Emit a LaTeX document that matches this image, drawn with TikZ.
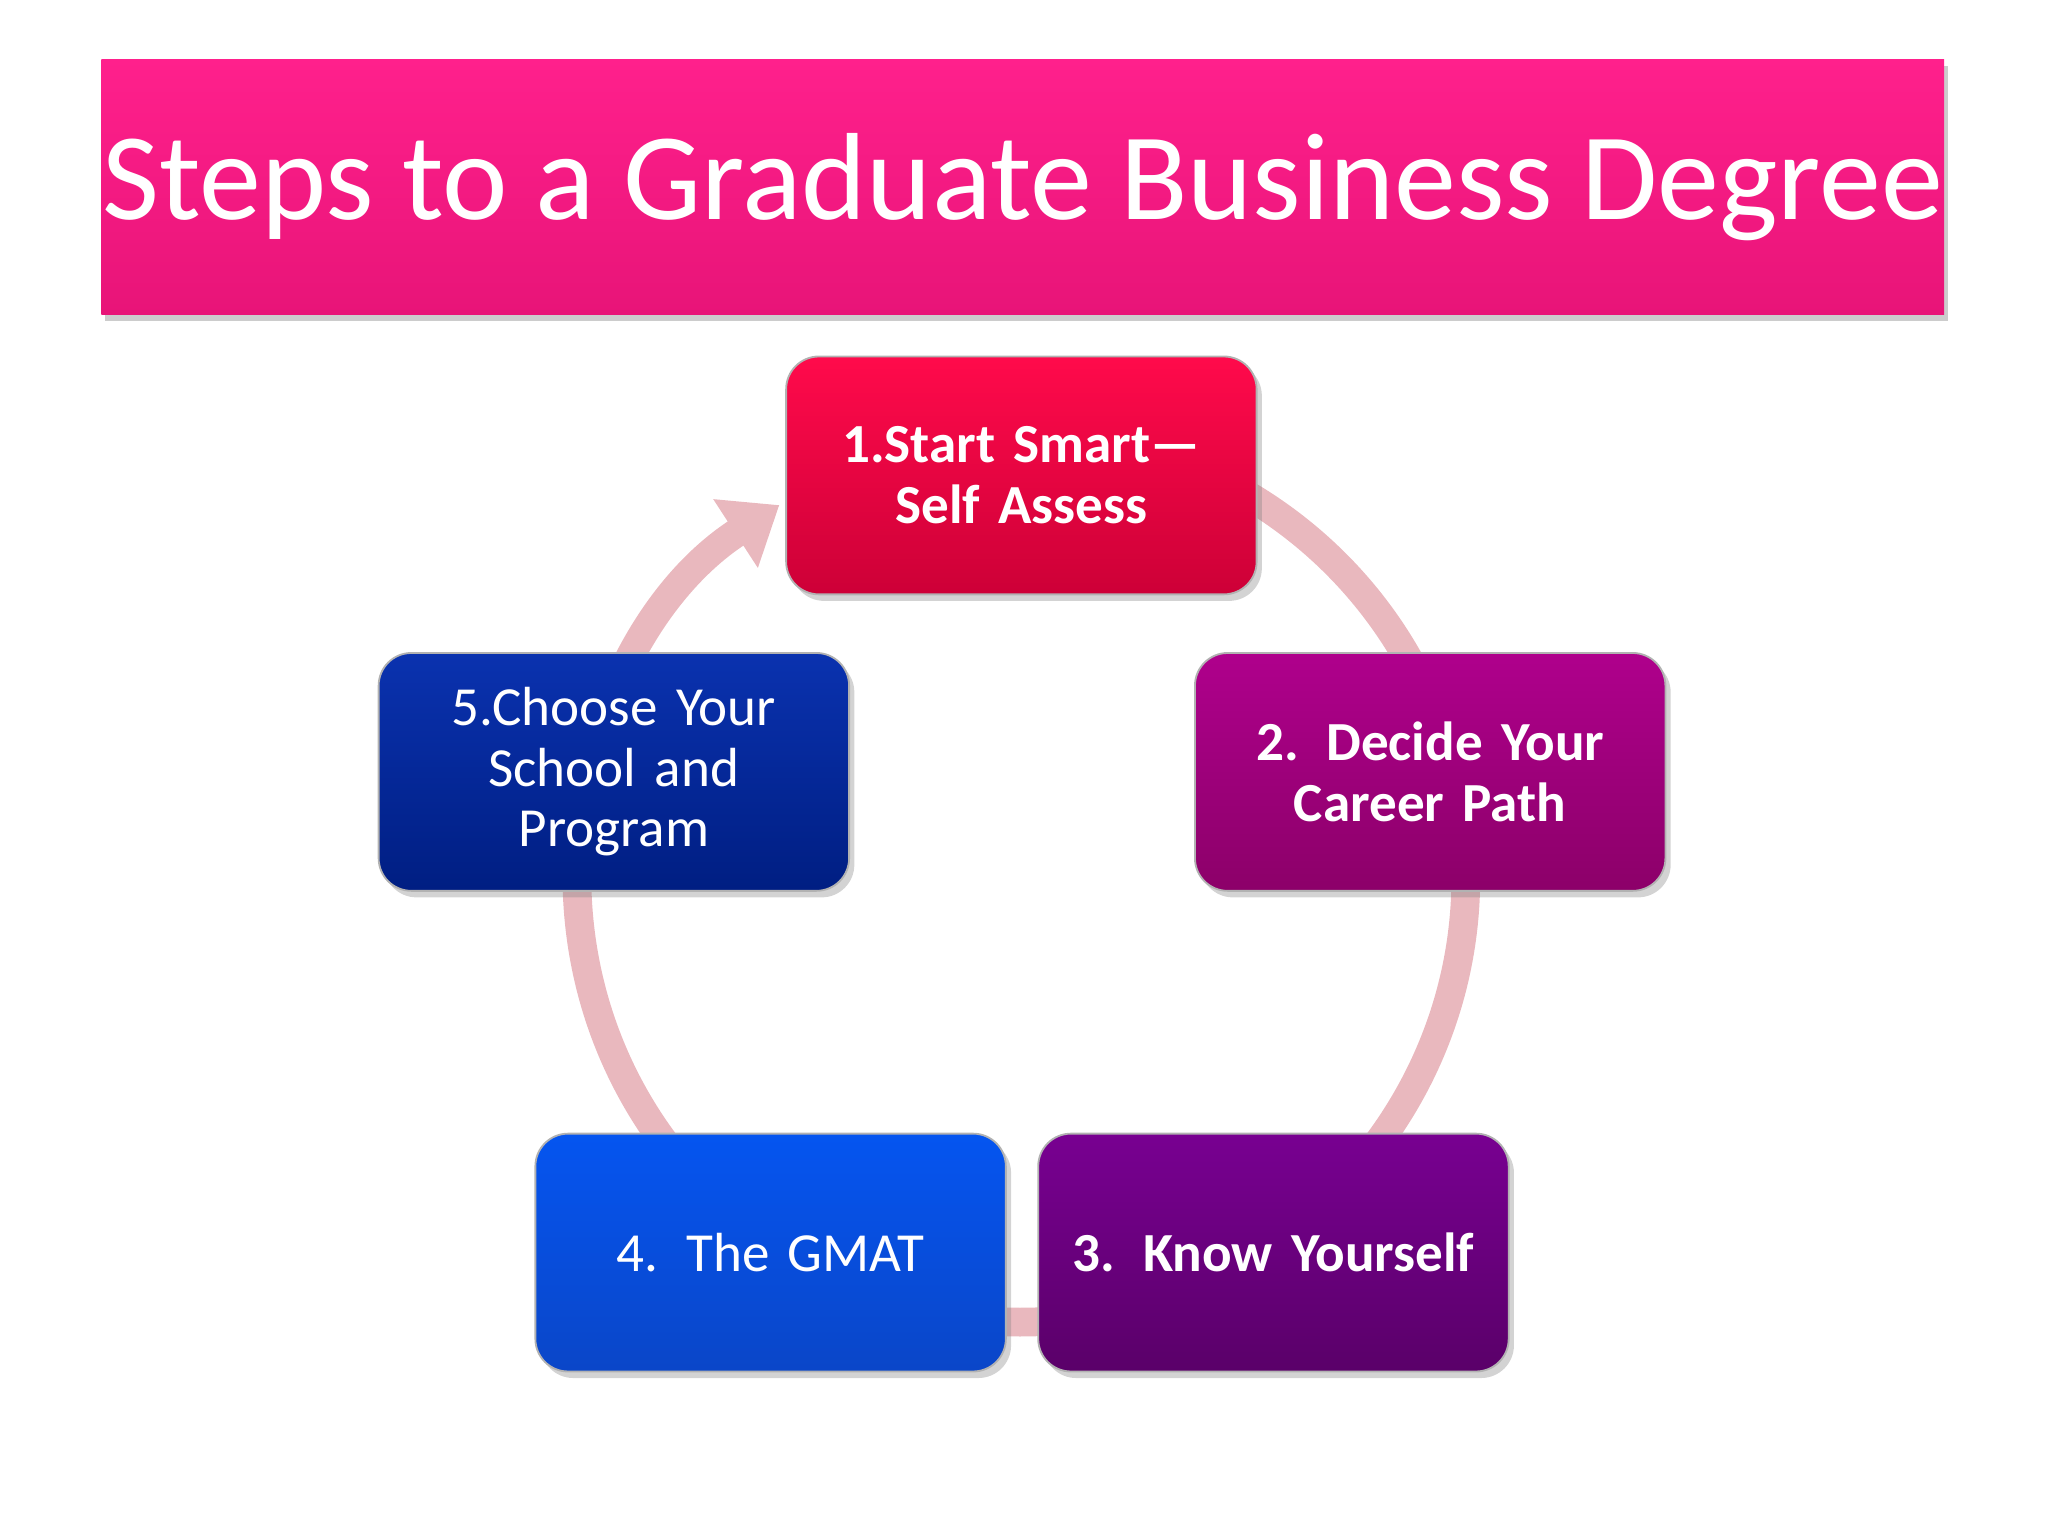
\documentclass[tikz,border=0pt]{standalone}
\usepackage{fontspec}
\setmainfont{Carlito}
\usetikzlibrary{arrows.meta,shadows}
\definecolor{tA}{RGB}{255,32,140}
\definecolor{tB}{RGB}{232,20,120}
\definecolor{ring}{RGB}{233,184,190}
\definecolor{aA}{RGB}{255,10,75}\definecolor{aB}{RGB}{205,0,55}
\definecolor{bA}{RGB}{175,0,140}\definecolor{bB}{RGB}{140,0,105}
\definecolor{cA}{RGB}{120,0,145}\definecolor{cB}{RGB}{90,0,105}
\definecolor{dA}{RGB}{5,85,240}\definecolor{dB}{RGB}{10,70,200}
\definecolor{eA}{RGB}{10,50,175}\definecolor{eB}{RGB}{0,30,130}
\begin{document}
\begin{tikzpicture}[x=0.01cm,y=-0.01cm,
  stepbox/.style={rounded corners=0.25cm, minimum width=3.6cm, minimum height=1.82cm,
    text width=3.2cm, align=center, text=white, font=\fontsize{12}{13.2}\selectfont,
    draw=white!70!black, line width=0.4pt,
    drop shadow={shadow xshift=0.04cm,shadow yshift=-0.05cm,opacity=0.35}}]
\useasboundingbox (0,0) rectangle (1568,1176);
% title
\node[minimum width=14.1cm, minimum height=1.95cm, inner sep=0pt,
  top color=tA, bottom color=tB,
  drop shadow={shadow xshift=0.03cm,shadow yshift=-0.05cm,opacity=0.4},
  text=white, font=\fontsize{27}{30}\selectfont] (title) at (783,143) {Steps to a Graduate Business Degree};
% cycle arrow
\coordinate (c) at (782,672);
\draw[line width=0.22cm, ring, -{Triangle[width=0.6cm,length=0.4cm]}]
  ([shift={(100:3.4cm)}]c) arc[start angle=100, end angle=-237, radius=3.4cm];
% boxes
\node[stepbox, top color=aA, bottom color=aB] (s1) at (782,364) {\bfseries 1.Start Smart—\\Self Assess};
\node[stepbox, top color=bA, bottom color=bB] (s2) at (1095,591) {\bfseries 2. Decide Your\\Career Path};
\node[stepbox, top color=cA, bottom color=cB] (s3) at (975,959) {\bfseries 3. Know Yourself};
\node[stepbox, top color=dA, bottom color=dB] (s4) at (590,959) {4. The GMAT};
\node[stepbox, top color=eA, bottom color=eB] (s5) at (470,591) {5.Choose Your\\School and\\Program};
\end{tikzpicture}
\end{document}
